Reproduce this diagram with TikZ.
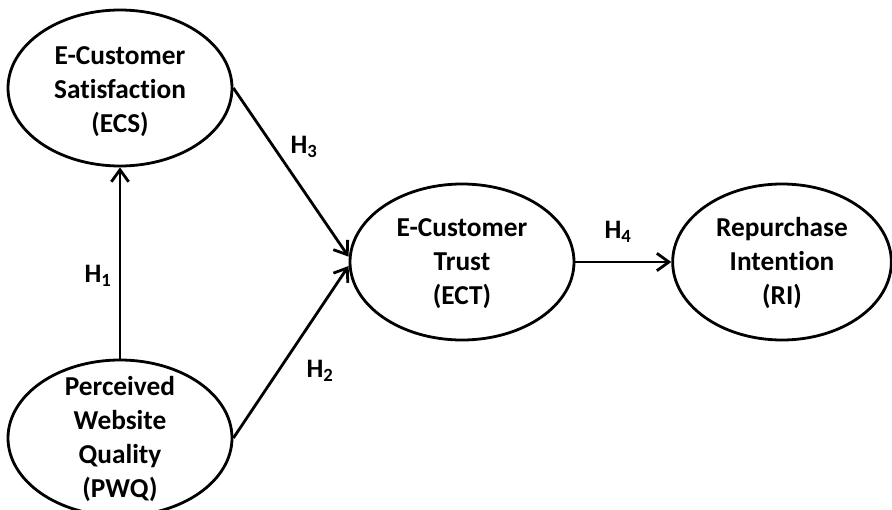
\documentclass[tikz,border=0pt]{standalone}
\usepackage{fontspec}
\setmainfont[Ligatures=NoCommon]{Carlito}
\usetikzlibrary{shapes.geometric,arrows.meta}
\tikzset{
  construct/.style={draw, ellipse, line width=2.1pt, minimum width=168pt, minimum height=117pt, inner sep=0pt},
  caption/.style={align=center, font=\fontsize{20.5pt}{25.5pt}\selectfont\bfseries},
  hyp/.style={font=\fontsize{20pt}{22pt}\selectfont\bfseries},
  path/.style={line width=2.1pt, -{Straight Barb[length=9pt,width=13pt,line width=2.1pt]}}
}
\begin{document}
\begin{tikzpicture}[x=0.75pt,y=-0.75pt]
\useasboundingbox (0,0) rectangle (892,510);
% constructs
\node[construct] (ecs) at (120,88) {};
\node[construct] (pwq) at (120,438) {};
\node[construct] (ect) at (462,262) {};
\node[construct,minimum width=164pt] (ri) at (782,262) {};
\node[caption] (ecst) at ([yshift=-3pt]ecs.center) {E-Customer\\Satisfaction\\(ECS)};
\node[caption] (pwqt) at ([yshift=-1pt]pwq.center) {Perceived\\Website\\Quality\\(PWQ)};
\node[caption] (ectt) at ([yshift=-1pt]ect.center) {E-Customer\\Trust\\(ECT)};
\node[caption] (rit) at ([yshift=-1pt]ri.center) {Repurchase\\Intention\\(RI)};
% hypothesised paths
\draw[path] (pwq.north) -- (ecs.south);
\draw[path] (ecs.east) -- ([yshift=4pt]ect.west);
\draw[path] (pwq.east) -- ([yshift=-3pt]ect.west);
\draw[path] (ect.east) -- (ri.west);
% path labels
\node[hyp] (h1) at (98,276) {H\textsubscript{1}};
\node[hyp] (h3) at (304,147) {H\textsubscript{3}};
\node[hyp] (h2) at (320,371) {H\textsubscript{2}};
\node[hyp] (h4) at (618,232) {H\textsubscript{4}};
\end{tikzpicture}
\end{document}
